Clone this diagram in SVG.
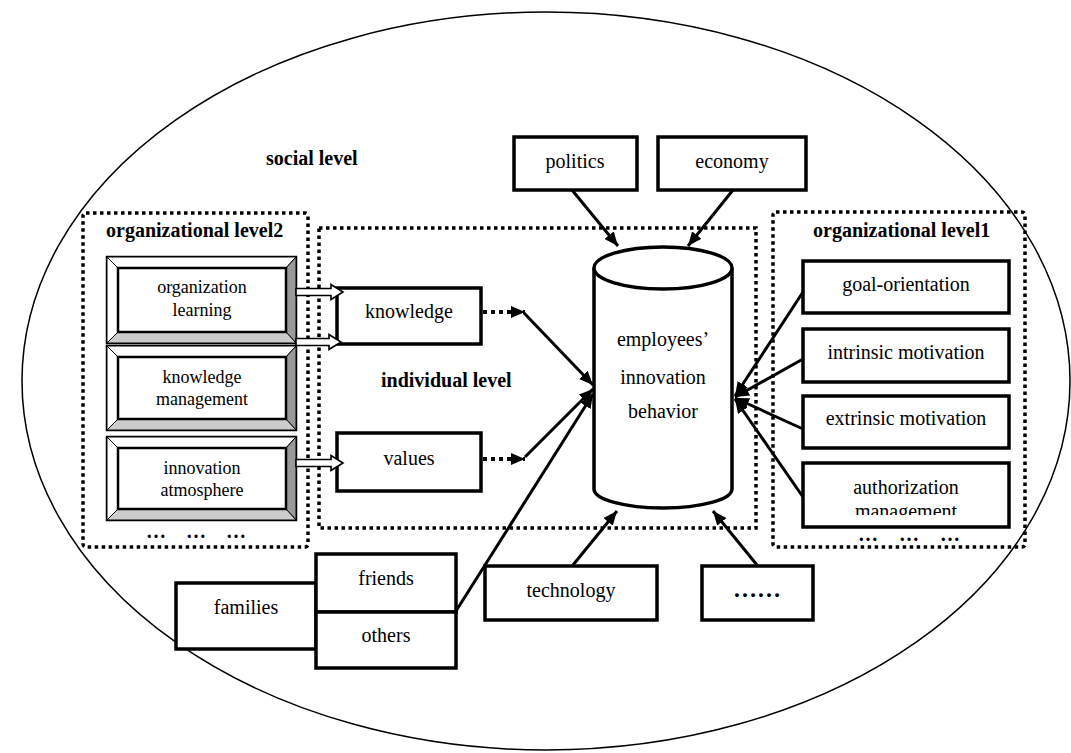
<svg xmlns="http://www.w3.org/2000/svg" width="1071" height="753" viewBox="0 0 1071 753">
<style>
text{font-family:"Liberation Serif","Times New Roman",serif;fill:#000}
.t{font-size:20px;text-anchor:middle}
.tb{font-size:18px;text-anchor:middle}
.lbl{font-size:20px;font-weight:bold}
.el{font-size:20px;font-weight:bold}
.box{fill:#fff;stroke:#000;stroke-width:3.5}
.dot{fill:none;stroke:#000;stroke-width:3.5;stroke-dasharray:3.5 3.5}
.ln{fill:none;stroke:#000;stroke-width:3}
.hol{fill:#fff;stroke:#000;stroke-width:1.6}
.bo{fill:#fff;stroke:#000;stroke-width:2.5}
.bl{fill:#fff;stroke:#000;stroke-width:1}
.br{fill:#999;stroke:#000;stroke-width:1}
.bb{fill:#ccc;stroke:#000;stroke-width:1}
</style>
<defs>
<marker id="ah" viewBox="0 0 14 12" refX="14" refY="6" markerWidth="14" markerHeight="12" markerUnits="userSpaceOnUse" orient="auto">
<path d="M0,0 L14,6 L0,12 z" fill="#000"/>
</marker>
<clipPath id="authClip"><rect x="803" y="463" width="207" height="52"/></clipPath>
</defs>
<rect width="1071" height="753" fill="#fff"/>
<g id="social-level">
<ellipse cx="546" cy="381" rx="524" ry="369" fill="none" stroke="#000" stroke-width="1.5"/>
<text class="lbl" x="266" y="165">social level</text>
</g>
<g id="organizational-level2">
<rect class="dot" x="83" y="213" width="225" height="334" rx="3"/>
<text class="lbl" x="106" y="237">organizational level2</text>
<text class="el" x="146" y="538">…</text>
<text class="el" x="186" y="538">…</text>
<text class="el" x="226" y="538">…</text>
</g>
<g id="individual-level">
<rect class="dot" x="319" y="228" width="437" height="300"/>
<text class="lbl" x="381" y="387">individual level</text>
</g>
<g id="organizational-level1">
<rect class="dot" x="773" y="212" width="252" height="335" rx="3"/>
<text class="lbl" x="813" y="237">organizational level1</text>
<text class="el" x="858" y="541">…</text>
<text class="el" x="899" y="541">…</text>
<text class="el" x="940" y="541">…</text>
</g>
<g id="organization-learning">
<rect class="bo" x="107" y="257" width="189" height="86"/>
<polygon class="bl" points="107,257 296,257 286,268 118,268"/>
<polygon class="bl" points="107,257 118,268 118,332 107,343"/>
<polygon class="br" points="296,257 296,343 286,332 286,268"/>
<polygon class="bb" points="107,343 118,332 286,332 296,343"/>
<rect class="bo" x="118" y="268" width="168" height="64"/>
<text class="tb" x="202" y="293">organization</text>
<text class="tb" x="202" y="316">learning</text>
</g>
<g id="knowledge-management">
<rect class="bo" x="107" y="346" width="189" height="84"/>
<polygon class="bl" points="107,346 296,346 286,357 118,357"/>
<polygon class="bl" points="107,346 118,357 118,419 107,430"/>
<polygon class="br" points="296,346 296,430 286,419 286,357"/>
<polygon class="bb" points="107,430 118,419 286,419 296,430"/>
<rect class="bo" x="118" y="357" width="168" height="62"/>
<text class="tb" x="202" y="383">knowledge</text>
<text class="tb" x="202" y="405">management</text>
</g>
<g id="innovation-atmosphere">
<rect class="bo" x="107" y="437" width="189" height="83"/>
<polygon class="bl" points="107,437 296,437 286,448 118,448"/>
<polygon class="bl" points="107,437 118,448 118,509 107,520"/>
<polygon class="br" points="296,437 296,520 286,509 286,448"/>
<polygon class="bb" points="107,520 118,509 286,509 296,520"/>
<rect class="bo" x="118" y="448" width="168" height="61"/>
<text class="tb" x="202" y="474">innovation</text>
<text class="tb" x="202" y="496">atmosphere</text>
</g>
<g id="knowledge">
<rect class="box" x="337" y="288" width="144" height="56"/>
<text class="t" x="409" y="318">knowledge</text>
</g>
<g id="values">
<rect class="box" x="337" y="433" width="144" height="58"/>
<text class="t" x="409" y="465">values</text>
</g>
<g id="politics">
<rect class="box" x="514" y="137" width="123" height="53"/>
<text class="t" x="575" y="168">politics</text>
</g>
<g id="economy">
<rect class="box" x="658" y="137" width="148" height="53"/>
<text class="t" x="732" y="168">economy</text>
</g>
<g id="employees-innovation-behavior">
<path d="M594,268 L594,489 A69,19 0 0 0 732,489 L732,268" fill="#fff" stroke="#000" stroke-width="3.5"/>
<ellipse cx="663" cy="268" rx="69" ry="21" fill="#fff" stroke="#000" stroke-width="3.5"/>
<text class="t" x="663" y="346">employees’</text>
<text class="t" x="663" y="384">innovation</text>
<text class="t" x="663" y="418">behavior</text>
</g>
<g id="goal-orientation">
<rect class="box" x="803" y="261" width="206" height="52"/>
<text class="t" x="906" y="291">goal-orientation</text>
</g>
<g id="intrinsic-motivation">
<rect class="box" x="803" y="329" width="206" height="53"/>
<text class="t" x="906" y="359">intrinsic motivation</text>
</g>
<g id="extrinsic-motivation">
<rect class="box" x="803" y="396" width="206" height="52"/>
<text class="t" x="906" y="425">extrinsic motivation</text>
</g>
<g id="authorization-management">
<rect class="box" x="803" y="463" width="206" height="64"/>
<text class="t" x="906" y="494">authorization</text>
<text class="t" x="906" y="518" clip-path="url(#authClip)">management</text>
</g>
<g id="families">
<rect class="box" x="176" y="583" width="140" height="66"/>
<text class="t" x="246" y="614">families</text>
</g>
<g id="friends">
<rect class="box" x="316" y="554" width="140" height="58"/>
<text class="t" x="386" y="585">friends</text>
</g>
<g id="others">
<rect class="box" x="316" y="612" width="140" height="56"/>
<text class="t" x="386" y="642">others</text>
</g>
<g id="technology">
<rect class="box" x="485" y="566" width="172" height="54"/>
<text class="t" x="571" y="597">technology</text>
</g>
<g id="more">
<rect class="box" x="702" y="566" width="111" height="54"/>
<text class="t" x="757" y="597" style="font-size:24px;font-weight:bold">……</text>
</g>
<g id="connectors">
<polygon class="hol" points="296,288.5 331,288.5 331,284.5 343,292 331,299.5 331,295.5 296,295.5"/>
<polygon class="hol" points="296,338.5 329,338.5 329,334.5 341,342 329,349.5 329,345.5 296,345.5"/>
<polygon class="hol" points="296,459.5 331,459.5 331,455.5 343,463 331,470.5 331,466.5 296,466.5"/>
<line x1="483" y1="312" x2="525" y2="312" stroke="#000" stroke-width="4" stroke-dasharray="4 4" marker-end="url(#ah)"/>
<line x1="483" y1="459" x2="525" y2="459" stroke="#000" stroke-width="4" stroke-dasharray="4 4" marker-end="url(#ah)"/>
<line class="ln" x1="524" y1="313" x2="593" y2="385" marker-end="url(#ah)"/>
<line class="ln" x1="525" y1="457" x2="593" y2="389" marker-end="url(#ah)"/>
<line class="ln" x1="456" y1="611" x2="593" y2="394" marker-end="url(#ah)"/>
<line class="ln" x1="572" y1="190" x2="618" y2="246" marker-end="url(#ah)"/>
<line class="ln" x1="733" y1="190" x2="688" y2="246" marker-end="url(#ah)"/>
<line class="ln" x1="573" y1="565" x2="617" y2="511" marker-end="url(#ah)"/>
<line class="ln" x1="757" y1="565" x2="713" y2="511" marker-end="url(#ah)"/>
<line class="ln" x1="803" y1="292" x2="735" y2="396" marker-end="url(#ah)"/>
<line class="ln" x1="803" y1="359" x2="735" y2="397" marker-end="url(#ah)"/>
<line class="ln" x1="803" y1="429" x2="735" y2="398" marker-end="url(#ah)"/>
<line class="ln" x1="803" y1="497" x2="735" y2="399" marker-end="url(#ah)"/>
</g>
</svg>
